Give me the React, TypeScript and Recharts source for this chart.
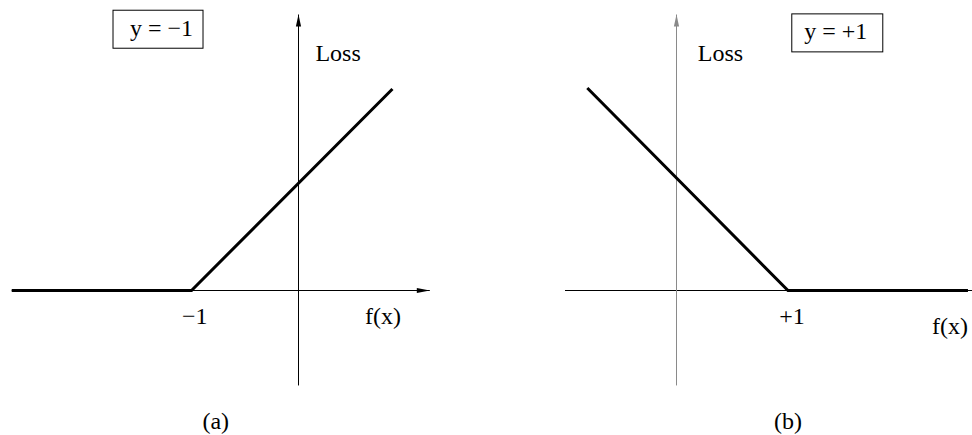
import React from 'react';
import { LineChart, Line, XAxis, YAxis, ReferenceLine, ReferenceDot } from 'recharts';

// ---- data ----
const leftLossX = [-2.68, -1, 0.878];
const leftLossY = [0, 0, 1.878];
const rightLossX = [-0.8, 1, 2.614];
const rightLossY = [1.8, 0, 0];

// axis extents (in data units)
const leftAxisX = [-2.68, 1.227];
const leftAxisY = [-0.885, 2.572];
const rightAxisX = [-1.0, 2.66];
const rightAxisY = [-0.844, 2.453];

// text
const tickLabels = ['−1', '+1'];
const axisTitleX = 'f(x)';
const axisTitleY = 'Loss';
const boxLabels = ['y = −1', 'y = +1'];
const panelCaptions = ['(a)', '(b)'];

const FONT = '"Liberation Serif", "Times New Roman", Times, serif';
const W = 486;
const H = 435;

type Pt = [number, number];
type PanelCfg = {
  xs: number[];
  ys: number[];
  axisX: number[];
  axisY: number[];
  ox: number; oy: number; ux: number; uy: number;
  xDomain: [number, number];
  yDomain: [number, number];
  vAxisColor: string;
  hArrow: boolean;
  tick: string; tickAt: Pt;
  fxAt: Pt; lossAt: Pt;
  box: string; boxAt: Pt; boxW: number; boxH: number; boxDx: number;
  caption: string; captionAt: Pt;
};

const panels: PanelCfg[] = [
  {
    xs: leftLossX, ys: leftLossY, axisX: leftAxisX, axisY: leftAxisY,
    ox: 298.5, oy: 290.5, ux: 107, uy: 107.3,
    xDomain: [-2.75, 1.25], yDomain: [-0.95, 2.7],
    vAxisColor: '#000', hArrow: true,
    tick: tickLabels[0], tickAt: [-0.97, -0.31],
    fxAt: [0.79, -0.31], lossAt: [0.37, 2.135],
    box: boxLabels[0], boxAt: [-1.313, 2.435], boxW: 90, boxH: 38, boxDx: 3.5,
    caption: panelCaptions[0], captionAt: [-0.773, -1.29],
  },
  {
    xs: rightLossX, ys: rightLossY, axisX: rightAxisX, axisY: rightAxisY,
    ox: 676.5 - 486, oy: 290.5, ux: 111.5, uy: 112.5,
    xDomain: [-1.65, 2.65], yDomain: [-0.9, 2.55],
    vAxisColor: '#8a8a8a', hArrow: false,
    tick: tickLabels[1], tickAt: [1.036, -0.3],
    fxAt: [2.453, -0.385], lossAt: [0.395, 2.04],
    box: boxLabels[1], boxAt: [1.442, 2.29], boxW: 91, boxH: 38, boxDx: -1.5,
    caption: panelCaptions[1], captionAt: [1.0, -1.228],
  },
];

const textShape = (label: string) => (p: any) => (
  <text x={p.cx} y={p.cy} textAnchor="middle" fontFamily={FONT} fontSize={24} fill="#000">
    {label}
  </text>
);

const boxShape = (label: string, w: number, h: number, dx: number) => (p: any) => (
  <g>
    <rect x={p.cx - w / 2} y={p.cy - h / 2} width={w} height={h} fill="#fff" stroke="#000" strokeWidth={1} />
    <text x={p.cx + dx} y={p.cy + 6.5} textAnchor="middle" fontFamily={FONT} fontSize={24} fill="#000">
      {label}
    </text>
  </g>
);

const upArrow = (color: string) => (p: any) => (
  <polygon points={`${p.cx},${p.cy} ${p.cx - 2.6},${p.cy + 12} ${p.cx + 2.6},${p.cy + 12}`} fill={color} />
);
const rightArrow = (color: string) => (p: any) => (
  <polygon points={`${p.cx},${p.cy} ${p.cx - 13},${p.cy - 2.6} ${p.cx - 13},${p.cy + 2.6}`} fill={color} />
);

function Panel({ cfg }: { cfg: PanelCfg }) {
  const data = cfg.xs.map((x, i) => ({ x, loss: cfg.ys[i] }));
  const margin = {
    left: cfg.ox + cfg.xDomain[0] * cfg.ux,
    right: W - (cfg.ox + cfg.xDomain[1] * cfg.ux),
    top: cfg.oy - cfg.yDomain[1] * cfg.uy,
    bottom: H - (cfg.oy - cfg.yDomain[0] * cfg.uy),
  };
  return (
    <LineChart width={W} height={H} data={data} margin={margin}>
      <XAxis dataKey="x" type="number" domain={cfg.xDomain} hide />
      <YAxis type="number" domain={cfg.yDomain} hide />
      <ReferenceLine
        segment={[{ x: cfg.axisX[0], y: 0 }, { x: cfg.axisX[1], y: 0 }]}
        stroke="#000" strokeWidth={1} ifOverflow="visible"
      />
      <ReferenceLine
        segment={[{ x: 0, y: cfg.axisY[0] }, { x: 0, y: cfg.axisY[1] }]}
        stroke={cfg.vAxisColor} strokeWidth={1} ifOverflow="visible"
      />
      <ReferenceDot x={0} y={cfg.axisY[1]} r={1} ifOverflow="visible" shape={upArrow(cfg.vAxisColor)} />
      {cfg.hArrow && (
        <ReferenceDot x={cfg.axisX[1]} y={0} r={1} ifOverflow="visible" shape={rightArrow('#000')} />
      )}
      <Line
        dataKey="loss" type="linear" stroke="#000" strokeWidth={3} dot={false}
        isAnimationActive={false} strokeLinejoin="miter"
      />
      <ReferenceDot x={cfg.tickAt[0]} y={cfg.tickAt[1]} r={1} ifOverflow="visible" shape={textShape(cfg.tick)} />
      <ReferenceDot x={cfg.fxAt[0]} y={cfg.fxAt[1]} r={1} ifOverflow="visible" shape={textShape(axisTitleX)} />
      <ReferenceDot x={cfg.lossAt[0]} y={cfg.lossAt[1]} r={1} ifOverflow="visible" shape={textShape(axisTitleY)} />
      <ReferenceDot
        x={cfg.boxAt[0]} y={cfg.boxAt[1]} r={1} ifOverflow="visible"
        shape={boxShape(cfg.box, cfg.boxW, cfg.boxH, cfg.boxDx)}
      />
      <ReferenceDot x={cfg.captionAt[0]} y={cfg.captionAt[1]} r={1} ifOverflow="visible" shape={textShape(cfg.caption)} />
    </LineChart>
  );
}

export default function App() {
  return (
    <div style={{ position: 'absolute', left: 0, top: 0, width: 972, height: 435, display: 'flex', background: '#fff' }}>
      {panels.map((p, i) => (
        <Panel key={i} cfg={p} />
      ))}
    </div>
  );
}
